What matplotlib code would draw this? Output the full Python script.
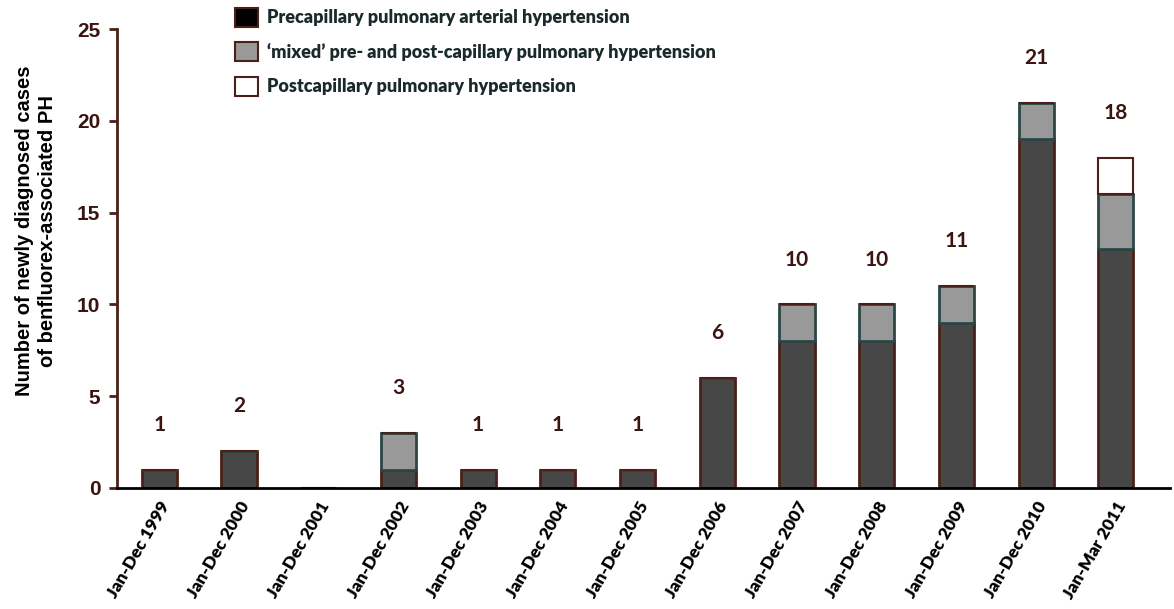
import matplotlib
matplotlib.use('Agg')
import matplotlib.pyplot as plt
import numpy as np
from matplotlib.patches import Patch

# data
periods = ['Jan-Dec 1999', 'Jan-Dec 2000', 'Jan-Dec 2001', 'Jan-Dec 2002', 'Jan-Dec 2003',
           'Jan-Dec 2004', 'Jan-Dec 2005', 'Jan-Dec 2006', 'Jan-Dec 2007', 'Jan-Dec 2008',
           'Jan-Dec 2009', 'Jan-Dec 2010', 'Jan-Mar 2011']
precap = [1, 2, 0, 1, 1, 1, 1, 6, 8, 8, 9, 19, 13]
mixed = [0, 0, 0, 2, 0, 0, 0, 0, 2, 2, 2, 2, 3]
postcap = [0, 0, 0, 0, 0, 0, 0, 0, 0, 0, 0, 0, 2]
legend_labels = ['Precapillary pulmonary arterial hypertension',
                 '\u2018mixed\u2019 pre- and post-capillary pulmonary hypertension',
                 'Postcapillary pulmonary hypertension']

# colours
DARK = '#474747'
GREY = '#999999'
BROWN = '#4a2018'
TEAL = '#2c4646'
TXT = '#3a1410'

fig = plt.figure(figsize=(11.74, 6.09), dpi=100)
ax = fig.add_axes([0.0997, 0.1987, 0.8969, 0.7533])

x = np.arange(len(periods))
pre = np.array(precap)
mix = np.array(mixed)
post = np.array(postcap)
W = 0.44

ax.bar(x, pre, W, color=DARK, edgecolor=BROWN, linewidth=2)
ax.bar(x, mix, W, bottom=pre, color=GREY, edgecolor=TEAL, linewidth=2)
ax.bar(x, post, W, bottom=pre + mix, color='white', edgecolor=BROWN, linewidth=1.5)

# totals above bars
totals = pre + mix + post
for xi, t in zip(x, totals):
    if t > 0:
        ax.text(xi, t + 2.45, str(t), ha='center', va='center', fontsize=15,
                fontweight='bold', color=TXT, family='Lato')

ax.set_xlim(-0.53, 12.68)
ax.set_ylim(0, 25)
ax.set_yticks([0, 5, 10, 15, 20, 25])
ax.set_xticks(x)
ax.set_xticklabels(periods, rotation=60, ha='right', rotation_mode='anchor',
                   fontsize=12.5, fontweight='heavy', family='Lato')
ax.tick_params(axis='x', length=0, pad=8)
ax.tick_params(axis='y', direction='out', length=6, width=2, color=BROWN,
               labelsize=15, labelcolor=TXT, pad=6)
for lab in ax.get_yticklabels():
    lab.set_fontweight('bold')
    lab.set_family('Liberation Sans')

for s in ['top', 'right']:
    ax.spines[s].set_visible(False)
ax.spines['left'].set_color(BROWN)
ax.spines['left'].set_linewidth(2)
ax.spines['bottom'].set_color('black')
ax.spines['bottom'].set_linewidth(2)

ax.set_ylabel('Number of newly diagnosed cases\nof benfluorex-associated PH', fontsize=14.5,
              fontweight='bold', family='Liberation Sans', linespacing=1.3)
ax.yaxis.set_label_coords(-0.057, 0.56)

handles = [Patch(facecolor='black', edgecolor=BROWN, linewidth=1.5),
           Patch(facecolor=GREY, edgecolor=BROWN, linewidth=1.5),
           Patch(facecolor='white', edgecolor=BROWN, linewidth=1.5)]
fig.legend(handles, legend_labels, loc='upper left', bbox_to_anchor=(0.186, 1.014),
           frameon=False, prop={'family': 'Lato', 'weight': 'heavy', 'size': 13},
           handlelength=1.3, handleheight=1.25, handletextpad=0.5, labelspacing=0.85,
           labelcolor='#1a2a2a')

fig.savefig('out.png', dpi=100)
